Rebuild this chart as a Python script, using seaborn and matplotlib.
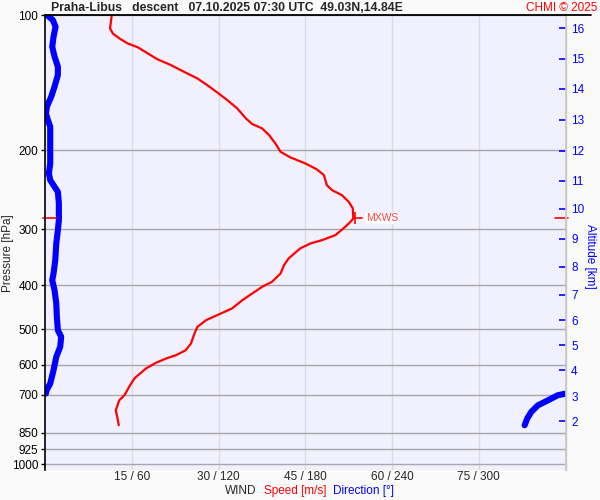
import numpy as np
import pandas as pd
import matplotlib
matplotlib.use('Agg')
import matplotlib.pyplot as plt
from matplotlib.lines import Line2D
from matplotlib.ticker import FixedLocator, NullLocator
import seaborn as sns

# wind speed profile (pressure hPa, speed m/s)
speed_p = [100, 107.1, 110.0, 112.7, 115.6, 118.0, 121.7, 125.5, 129.2, 133.8,
           138.4, 143.2, 148.9, 154.7, 161.4, 169.9, 174.9, 178.8, 185.0, 193.1,
           201.6, 207.5, 214.0, 220.7, 227.2, 239.1, 245.4, 251.7, 260.5, 269.5,
           283.7, 288.6, 296.1, 309.0, 317.0, 322.4, 330.8, 348.3, 360.5, 376.2,
           392.7, 402.9, 416.8, 431.3, 450.1, 463.5, 478.0, 494.7, 516.2, 538.6,
           557.4, 571.9, 581.6, 594.9, 612.3, 644.4, 672.7, 702.0, 720.3, 758.1,
           791.2, 818.9]
speed_ms = [11.5, 11.2, 11.7, 12.8, 14.2, 16.0, 17.7, 19.4, 21.7, 24.0,
            26.3, 28.0, 29.8, 31.5, 33.2, 34.7, 35.8, 37.5, 38.7, 39.8,
            40.7, 42.4, 45.0, 47.0, 48.2, 48.7, 49.6, 51.3, 52.5, 53.2,
            53.3, 52.8, 51.9, 50.2, 47.9, 45.9, 44.1, 42.1, 41.3, 40.7,
            39.2, 37.5, 35.8, 34.1, 32.3, 30.1, 27.8, 26.3, 25.7, 25.2,
            24.3, 22.6, 20.9, 19.1, 17.4, 15.4, 14.5, 13.7, 12.8, 12.2,
            12.5, 12.7]

# wind direction profile (pressure hPa, degrees)
dir_p = [100, 102.6, 106.2, 111.8, 117.6, 123.8, 130.3, 136.0, 144.4, 152.0,
         160.0, 165.6, 171.3, 177.3, 186.7, 199.8, 214.0, 225.2, 233.1, 241.2,
         247.5, 262.7, 286.2, 301.2, 322.4, 351.3, 376.2, 389.3, 409.8, 438.7,
         469.9, 502.9, 520.5, 548.1, 576.8, 617.5, 661.2, 684.2, 696.0,
         697.0, 702.0, 720.3, 739.0, 764.8, 791.2, 818.9]
dir_deg = [1.1, 5.2, 7.1, 5.7, 4.8, 6.4, 8.7, 8.7, 6.4, 4.1,
           1.1, 0.4, 1.8, 3.4, 3.4, 3.4, 3.4, 2.5, 3.4, 6.4,
           8.7, 9.4, 9.4, 8.7, 7.6, 6.9, 5.7, 4.8, 6.4, 7.6,
           8.0, 8.7, 11.0, 10.3, 7.6, 5.7, 3.4, 0.9, 0.4,
           359.5, 354.7, 348.0, 341.0, 336.3, 333.5, 331.7]

p_ticks = [100, 200, 300, 400, 500, 600, 700, 850, 925, 1000]
wind_ticks = [15, 30, 45, 60, 75]
wind_labels = ['15 / 60', '30 / 120', '45 / 180', '60 / 240', '75 / 300']
alt_km = [2, 3, 4, 5, 6, 7, 8, 9, 10, 11, 12, 13, 14, 15, 16]
alt_p = [802.5, 706, 618, 544, 478.6, 419, 363.1, 314.7, 269.8, 233.8,
         200.5, 171.2, 146.0, 125.2, 106.9]

sns.set_theme(style='white')
plt.rcParams['font.family'] = ['Liberation Sans', 'DejaVu Sans']

W, H = 600, 500
fig = plt.figure(figsize=(6, 5), dpi=100, facecolor='#fafafa')
ax = fig.add_axes([45.3 / W, 1 - 470 / H, (565.5 - 45.3) / W, (470 - 15) / H])
ax.set_facecolor('#f0f0ff')

ax.set_yscale('log')
ax.set_ylim(1030, 100)
ax.set_xlim(0, 90)

# grid
ax.yaxis.set_major_locator(FixedLocator(p_ticks))
ax.yaxis.set_minor_locator(NullLocator())
ax.set_yticklabels([str(p) for p in p_ticks], fontsize=8.5)
ax.set_xticks(wind_ticks)
ax.set_xticklabels(wind_labels, fontsize=8.5)
ax.grid(axis='y', color='#a8a8a8', lw=1.0)
ax.grid(axis='x', color='#dcdcdc', lw=1.0)
ax.set_axisbelow(True)
ax.tick_params(axis='y', direction='out', length=3, width=1, pad=2, colors='black', left=True)
ax.tick_params(axis='x', length=0, pad=1)

for side in ['top', 'bottom']:
    ax.spines[side].set_visible(False)
ax.spines['left'].set_color('black')
ax.spines['left'].set_linewidth(1.2)
ax.spines['right'].set_color('#c8c8c8')
ax.spines['right'].set_linewidth(1.0)

# direction: 360 deg maps onto 90 m/s, split at the 0/360 wrap
d = np.array(dir_deg)
seg = np.zeros(len(d), dtype=int)
seg[np.where(np.abs(np.diff(d)) > 180)[0][0] + 1:] = 1
df_dir = pd.DataFrame({'x': d / 4.0, 'p': dir_p, 'seg': seg})
sns.lineplot(data=df_dir, x='x', y='p', units='seg', estimator=None, sort=False,
             color='#0000ff', lw=4.4, solid_capstyle='round', ax=ax, legend=False)

df_spd = pd.DataFrame({'speed': speed_ms, 'p': speed_p})
sns.lineplot(data=df_spd, x='speed', y='p', estimator=None, sort=False,
             color='#ff0000', lw=1.6, ax=ax, legend=False)

# max wind marker
i_max = int(np.argmax(speed_ms))
v_max, p_max = speed_ms[i_max], speed_p[i_max]
ax.plot([v_max, v_max + 1.5], [p_max, p_max], color='#ff0000', lw=1.2)
ax.plot([v_max + 0.3], [p_max], marker='|', ms=9, mew=1.2, color='#ff0000')
ax.text(v_max + 2.2, p_max, 'MXWS', color='#ff4040', fontsize=7.5, va='center',
        bbox=dict(facecolor='white', edgecolor='none', pad=0.5))
bt = ax.get_yaxis_transform()
ax.plot([-0.005, 0.02], [p_max, p_max], color='#ff0000', lw=1.2, transform=bt, clip_on=False)
ax.plot([0.98, 1.005], [p_max, p_max], color='#ff0000', lw=1.2, transform=bt, clip_on=False)

ax.set_xlabel('')
ax.set_ylabel('')

# altitude axis
ax2 = ax.twinx()
ax2.set_yscale('log')
ax2.set_ylim(1030, 100)
ax2.yaxis.set_major_locator(FixedLocator(alt_p))
ax2.yaxis.set_minor_locator(NullLocator())
ax2.set_yticklabels([str(a) for a in alt_km], fontsize=8.5, color='#0000ff')
ax2.tick_params(axis='y', direction='in', length=5, width=1.2, colors='#0000ff', pad=4)
for side in ['top', 'bottom', 'left']:
    ax2.spines[side].set_visible(False)
ax2.spines['right'].set_color('#c8c8c8')
ax2.grid(False)

# header
fig.add_artist(Line2D([45.3 / W, 591 / W], [1 - 15 / H, 1 - 15 / H], color='black', lw=1.3))
fig.text(51 / W, 1 - 8 / H, 'Praha-Libus   descent   07.10.2025 07:30 UTC  49.03N,14.84E',
         fontsize=8.8, fontweight='bold', va='center')
fig.text(597 / W, 1 - 8 / H, 'CHMI \u00a9 2025', fontsize=8.5, color='#ff0000', ha='right', va='center')

fig.text(8 / W, 1 - 253 / H, 'Pressure [hPa]', rotation=90, fontsize=8.5, ha='center', va='center')
fig.text(590 / W, 1 - 256 / H, 'Altitude [km]', rotation=270, fontsize=8.5, color='#0000ff',
         ha='center', va='center')

fig.text(225 / W, 1 - 491 / H, 'WIND', fontsize=8.5, va='center')
fig.text(264 / W, 1 - 491 / H, 'Speed [m/s]', fontsize=8.5, color='#ff0000', va='center')
fig.text(333 / W, 1 - 491 / H, 'Direction [\u00b0]', fontsize=8.5, color='#0000ff', va='center')

fig.savefig('out.png', dpi=100, facecolor=fig.get_facecolor())
